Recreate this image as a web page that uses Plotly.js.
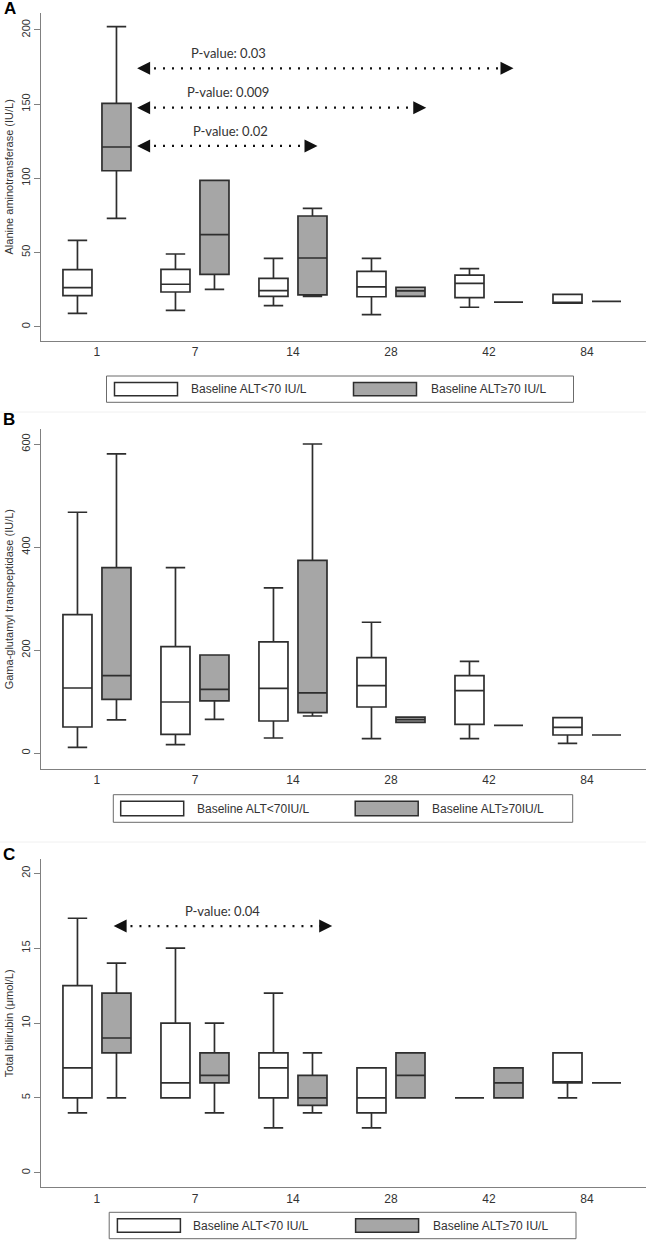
<!DOCTYPE html>
<html>
<head>
<meta charset="utf-8">
<script src="https://cdn.plot.ly/plotly-3.0.1.min.js"></script>
<style>html,body{margin:0;padding:0;background:#fff;}#chart{width:646px;height:1240px;}</style>
</head>
<body>
<div id="chart"></div>
<script>
// ---- data ----
const days = ['1', '7', '14', '28', '42', '84'];

// Panel A: Alanine aminotransferase (IU/L)
const altLowQ1 = [20.9, 23.4, 20.5, 20.2, 19.6, 15.8];
const altLowMed = [26.3, 28.6, 24.3, 26.8, 29.2, 15.8];
const altLowQ3 = [38.4, 38.7, 32.6, 37.3, 34.8, 21.8];
const altLowMin = [9.0, 11.0, 14.2, 8.1, 13.1, 15.8];
const altLowMax = [58.2, 49.0, 46.1, 46.1, 39.1, 21.8];
const altHighQ1 = [105.1, 35.3, 21.4, 20.5, 16.6, 17.1];
const altHighMed = [121.1, 62.0, 46.3, 24.1, 16.6, 17.1];
const altHighQ3 = [150.5, 98.6, 74.6, 26.6, 16.6, 17.1];
const altHighMin = [73.0, 25.2, 20.5, 20.5, 16.6, 17.1];
const altHighMax = [202.2, 98.6, 79.8, 26.6, 16.6, 17.1];

// Panel B: Gama-glutamyl transpeptidase (IU/L)
const ggtLowQ1 = [50.9, 36.6, 62.5, 89.7, 56.1, 35.3];
const ggtLowMed = [126.6, 99.4, 126.0, 131.1, 121.4, 50.3];
const ggtLowQ3 = [269.0, 206.8, 216.0, 185.4, 150.5, 69.0];
const ggtLowMin = [11.4, 16.6, 29.5, 28.2, 28.2, 19.2];
const ggtLowMax = [467.8, 360.2, 320.8, 254.2, 178.4, 69.0];
const ggtHighQ1 = [104.6, 101.4, 78.7, 60.0, 54.0, 35.3];
const ggtHighMed = [150.5, 124.0, 117.0, 65.0, 54.0, 35.3];
const ggtHighQ3 = [360.2, 190.7, 374.5, 70.0, 54.0, 35.3];
const ggtHighMin = [64.5, 65.8, 72.2, 60.0, 54.0, 35.3];
const ggtHighMax = [581.0, 190.7, 600.4, 70.0, 54.0, 35.3];

// Panel C: Total bilirubin (umol/L)
const tbLowQ1 = [5, 5, 5, 4, 5, 6];
const tbLowMed = [7, 6, 7, 5, 5, 6];
const tbLowQ3 = [12.5, 10, 8, 7, 5, 8];
const tbLowMin = [4, 5, 3, 3, 5, 5];
const tbLowMax = [17, 15, 12, 7, 5, 8];
const tbHighQ1 = [8, 6, 4.5, 5, 5, 6];
const tbHighMed = [9, 6.5, 5, 6.5, 6, 6];
const tbHighQ3 = [12, 8, 6.5, 8, 7, 6];
const tbHighMin = [5, 4, 4, 5, 5, 6];
const tbHighMax = [14, 10, 8, 8, 7, 6];

const yTitles = ['Alanine aminotransferase (IU/L)', 'Gama-glutamyl transpeptidase (IU/L)', 'Total bilirubin (μmol/L)'];
const yTicksA = [0, 50, 100, 150, 200];
const yTicksB = [0, 200, 400, 600];
const yTicksC = [0, 5, 10, 15, 20];
const legendLabelsA = ['Baseline ALT<70 IU/L', 'Baseline ALT≥70 IU/L'];
const legendLabelsB = ['Baseline ALT<70IU/L', 'Baseline ALT≥70IU/L'];
const legendLabelsC = ['Baseline ALT<70 IU/L', 'Baseline ALT≥70 IU/L'];
const panelLetters = ['A', 'B', 'C'];
// p-value comparisons: [label, arrow y, arrow x start, arrow x end, text x, text y]
const pvalsA = [['P-value: 0.03', 174.1, 0.41, 4.25, 1.34, 184.2],
                ['P-value: 0.009', 147.6, 0.41, 3.36, 1.34, 158.4],
                ['P-value: 0.02', 121.8, 0.41, 2.25, 1.36, 131.9]];
const pvalsC = [['P-value: 0.04', 16.48, 0.17, 2.40, 1.28, 17.5]];

// ---- styling / layout ----
const W = 646, H = 1240;
const px = x => x / W;
const py = y => 1 - y / H;
const LINE = '#2e2e2e', GREY = '#a6a6a6', AXIS = '#808080';
const FONT = 'Liberation Sans, Arial, sans-serif';

function boxTrace(q1, med, q3, lo, hi, fill, n, grp) {
  return {
    type: 'box', x: days, q1: q1, median: med, q3: q3, lowerfence: lo, upperfence: hi,
    xaxis: 'x' + (n === 1 ? '' : n), yaxis: 'y' + (n === 1 ? '' : n), offsetgroup: grp,
    fillcolor: fill, line: {color: LINE, width: 1.7}, whiskerwidth: 0.67,
    boxpoints: false, showlegend: false, hoverinfo: 'skip'
  };
}

const traces = [
  boxTrace(altLowQ1, altLowMed, altLowQ3, altLowMin, altLowMax, '#ffffff', 1, 'low'),
  boxTrace(altHighQ1, altHighMed, altHighQ3, altHighMin, altHighMax, GREY, 1, 'high'),
  boxTrace(ggtLowQ1, ggtLowMed, ggtLowQ3, ggtLowMin, ggtLowMax, '#ffffff', 2, 'low'),
  boxTrace(ggtHighQ1, ggtHighMed, ggtHighQ3, ggtHighMin, ggtHighMax, GREY, 2, 'high'),
  boxTrace(tbLowQ1, tbLowMed, tbLowQ3, tbLowMin, tbLowMax, '#ffffff', 3, 'low'),
  boxTrace(tbHighQ1, tbHighMed, tbHighQ3, tbHighMin, tbHighMax, GREY, 3, 'high')
];

const shapes = [];
const annotations = [];

function addPvals(list, n) {
  const xr = 'x' + (n === 1 ? '' : n), yr = 'y' + (n === 1 ? '' : n);
  list.forEach(p => {
    shapes.push({type: 'line', xref: xr, yref: yr, x0: p[2] + 0.08, x1: p[3] - 0.08, y0: p[1], y1: p[1],
      line: {color: '#111', width: 2.2, dash: '2px,7px'}});
    // arrowheads
    [[p[2], 12], [p[3], -12]].forEach(h => {
      annotations.push({xref: xr, yref: yr, x: h[0], y: p[1], ax: h[1], ay: 0, text: '', showarrow: true,
        arrowhead: 2, arrowsize: 1, arrowwidth: 2.6, arrowcolor: '#111', standoff: 0});
    });
    annotations.push({xref: xr, yref: yr, x: p[4], y: p[5], text: p[0], showarrow: false,
      font: {family: 'Lato, Open Sans, sans-serif', size: 13, color: '#333'}});
  });
}
addPvals(pvalsA, 1);
addPvals(pvalsC, 3);

// legends (custom wide swatches)
function addLegend(top, bottom, left, right, sw1, sw2, labels) {
  shapes.push({type: 'rect', xref: 'paper', yref: 'paper', x0: px(left), x1: px(right), y0: py(bottom), y1: py(top),
    line: {color: '#6b6b6b', width: 1}, fillcolor: 'rgba(0,0,0,0)'});
  const st = top + 6.5, sb = bottom - 6.5;
  shapes.push({type: 'rect', xref: 'paper', yref: 'paper', x0: px(sw1), x1: px(sw1 + 63), y0: py(sb), y1: py(st),
    line: {color: LINE, width: 1.5}, fillcolor: '#ffffff'});
  shapes.push({type: 'rect', xref: 'paper', yref: 'paper', x0: px(sw2), x1: px(sw2 + 63), y0: py(sb), y1: py(st),
    line: {color: LINE, width: 1.5}, fillcolor: GREY});
  const cy = py((top + bottom) / 2);
  annotations.push({xref: 'paper', yref: 'paper', x: px(sw1 + 74), y: cy, xanchor: 'left', yanchor: 'middle',
    text: labels[0], showarrow: false, font: {family: FONT, size: 12, color: '#333'}});
  annotations.push({xref: 'paper', yref: 'paper', x: px(sw2 + 75), y: cy, xanchor: 'left', yanchor: 'middle',
    text: labels[1], showarrow: false, font: {family: FONT, size: 12, color: '#333'}});
}
addLegend(376, 402.3, 106.5, 573.5, 114.5, 353.5, legendLabelsA);
addLegend(794.7, 822.3, 113.3, 572.7, 120.7, 355.2, legendLabelsB);
addLegend(1212.3, 1238.7, 109.2, 576, 117.4, 355.6, legendLabelsC);

// panel letters
const letterPos = [[10, 9], [9, 420], [9, 854]];
panelLetters.forEach((L, i) => {
  annotations.push({xref: 'paper', yref: 'paper', x: px(letterPos[i][0]), y: py(letterPos[i][1]),
    xanchor: 'center', yanchor: 'middle', text: '<b>' + L + '</b>', showarrow: false,
    font: {family: FONT, size: 17, color: '#000'}});
});

// faint separators between panels
[412, 842].forEach(y => shapes.push({type: 'line', xref: 'paper', yref: 'paper', x0: 0, x1: 1, y0: py(y), y1: py(y),
  line: {color: '#f0f0f0', width: 1}}));

const xRange = [-0.571, 5.602];
function xAxis(anchor) {
  return {type: 'category', range: xRange, domain: [px(41), 1], anchor: anchor,
    showline: true, linecolor: AXIS, linewidth: 1, ticks: '', showgrid: false, zeroline: false,
    tickfont: {family: FONT, size: 12, color: '#333'}, fixedrange: true};
}
function yAxis(anchor, top, bottom, range, ticks, title) {
  return {domain: [py(bottom), py(top)], range: range, anchor: anchor, tickvals: ticks, tickangle: -90,
    ticks: 'outside', ticklen: 6, tickcolor: AXIS, showline: true, linecolor: AXIS, linewidth: 1,
    showgrid: false, zeroline: false, tickfont: {family: FONT, size: 11, color: '#333'},
    title: {text: title, font: {family: FONT, size: 11, color: '#333'}, standoff: 3}, fixedrange: true};
}

const layout = {
  width: W, height: H, margin: {l: 0, r: 0, t: 0, b: 0},
  paper_bgcolor: '#fff', plot_bgcolor: '#fff',
  boxmode: 'group', boxgap: 0.204, boxgroupgap: 0.256,
  showlegend: false,
  xaxis: xAxis('y'), xaxis2: xAxis('y2'), xaxis3: xAxis('y3'),
  yaxis: yAxis('x', 13, 340.7, [-9.43, 211.4], yTicksA, yTitles[0]),
  yaxis2: yAxis('x2', 429.3, 769, [-30.7, 628.9], yTicksB, yTitles[1]),
  yaxis3: yAxis('x3', 859.3, 1187.3, [-0.975, 20.94], yTicksC, yTitles[2]),
  shapes: shapes, annotations: annotations
};

Plotly.newPlot('chart', traces, layout, {staticPlot: true, displayModeBar: false});
</script>
</body>
</html>
